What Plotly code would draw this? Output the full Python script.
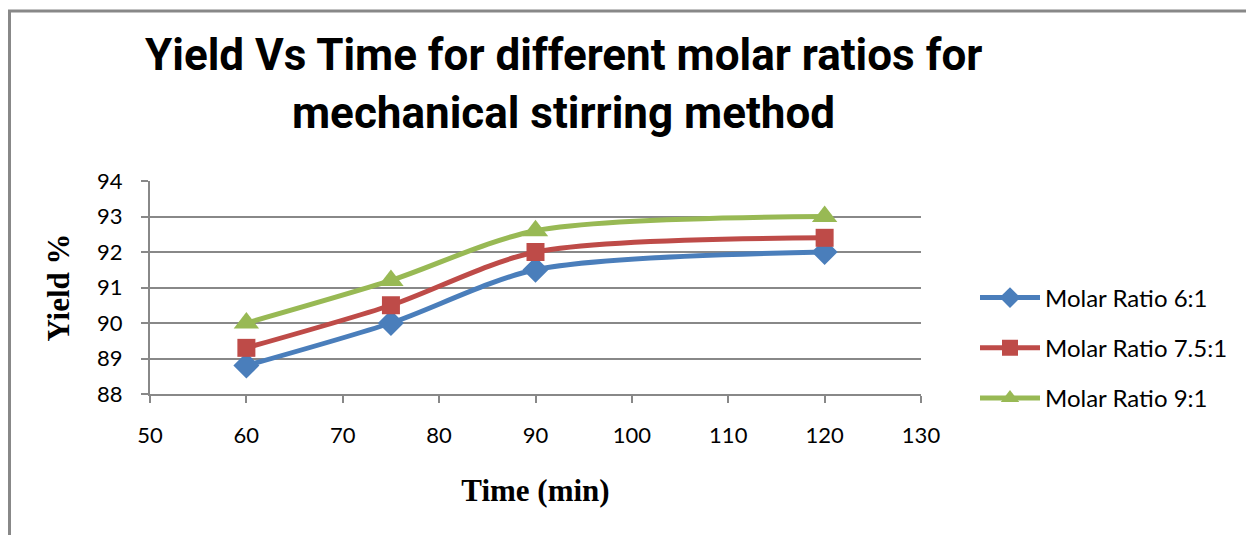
import plotly.graph_objects as go

time_min = [60, 75, 90, 120]
ratio_6 = [88.8, 90.0, 91.5, 92.0]
ratio_75 = [89.3, 90.5, 92.0, 92.4]
ratio_9 = [90.0, 91.2, 92.6, 93.0]
series_names = ["Molar Ratio 6:1", "Molar Ratio 7.5:1", "Molar Ratio 9:1"]
colors = ["#4a7ebb", "#be4b48", "#98b954"]
symbols = ["diamond", "square", "triangle-up"]
sizes = [20, 18, 22]

W, H = 1246, 535
L, R, T, B = 150, 325, 181, 141
pw, ph = W - L - R, H - T - B

def px(x):
    return (x - L) / pw

def py(y):
    return (H - B - y) / ph

fig = go.Figure()
for name, vals, c, s, sz, g in zip(series_names, [ratio_6, ratio_75, ratio_9], colors, symbols, sizes, ["a", "b", "c"]):
    fig.add_trace(go.Scatter(
        x=time_min, y=vals, name=name, mode="lines+markers",
        line=dict(color=c, width=5, shape="spline", smoothing=0.8),
        marker=dict(symbol=s, size=sz, color=c),
        legendgroup=g,
    ))

axis_font = dict(family="Lato, Carlito, sans-serif", size=22, color="#000")
serif = "Liberation Serif, Times New Roman, serif"
fig.update_xaxes(range=[50, 130], dtick=10, showgrid=False, showline=True,
                 linecolor="#888", linewidth=2, ticks="outside", ticklen=7,
                 tickcolor="#888", tickwidth=2, tickfont=axis_font,
                 ticklabelstandoff=14, zeroline=False,
                 title=dict(text="<b>Time (min)</b>", standoff=32,
                            font=dict(family=serif, size=31, color="#000")))
fig.update_yaxes(range=[88, 94], dtick=1, showgrid=True, gridcolor="#888", gridwidth=2,
                 showline=True, linecolor="#888", linewidth=2, ticks="outside",
                 ticklen=7, tickcolor="#888", tickwidth=2, tickfont=axis_font,
                 ticklabelstandoff=14, zeroline=False,
                 title=dict(text="<b>Yield %</b>", standoff=18,
                            font=dict(family=serif, size=31, color="#000")))

title_font = dict(family="Roboto, sans-serif", size=44, color="#000")
fig.add_annotation(text="<b>Yield Vs Time for different molar ratios for</b>", xref="paper", yref="paper",
                   x=px(563), y=py(55), xanchor="center", yanchor="middle", showarrow=False, font=title_font)
fig.add_annotation(text="<b>mechanical stirring method</b>", xref="paper", yref="paper",
                   x=px(563), y=py(113), xanchor="center", yanchor="middle", showarrow=False, font=title_font)

# outer chart frame (partially cropped)
fig.add_shape(type="path", xref="paper", yref="paper",
              path=f"M {px(9.5)},{py(545)} L {px(9.5)},{py(11)} L {px(1260)},{py(11)}",
              line=dict(color="#888", width=3))

fig.update_layout(
    width=W, height=H,
    margin=dict(l=L, r=R, t=T, b=B),
    paper_bgcolor="white", plot_bgcolor="white",
    showlegend=True,
    legend=dict(x=px(975), y=py(348), xanchor="left", yanchor="middle",
                font=dict(family="Lato, Carlito, sans-serif", size=24, color="#000"),
                tracegroupgap=16, itemwidth=60, bgcolor="rgba(0,0,0,0)"),
)

fig.write_html("out.html")
